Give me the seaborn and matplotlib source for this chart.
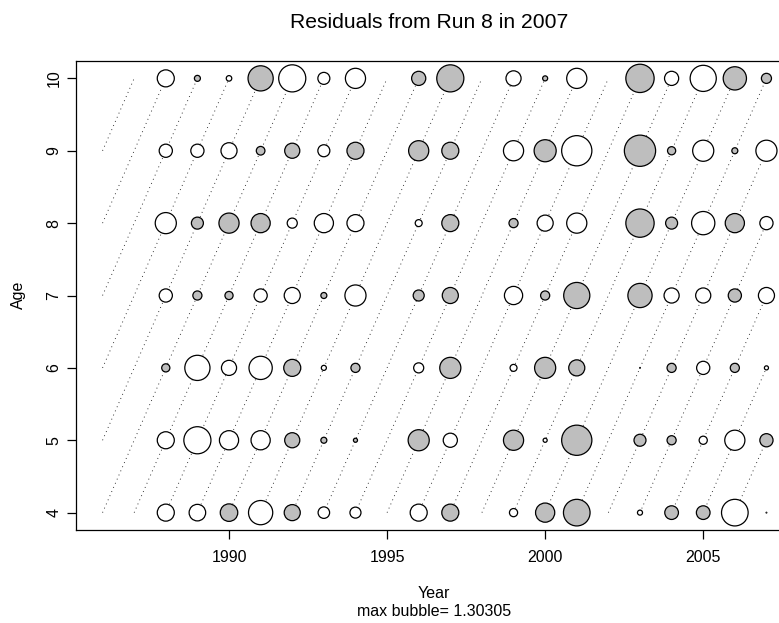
import matplotlib
matplotlib.use("Agg")
import matplotlib.pyplot as plt
import numpy as np
import pandas as pd
import seaborn as sns

# Years with observations (1995, 1998 and 2002 have none)
YEARS = [1988, 1989, 1990, 1991, 1992, 1993, 1994, 1996, 1997,
         1999, 2000, 2001, 2003, 2004, 2005, 2006, 2007]
AGES = [4, 5, 6, 7, 8, 9, 10]
FIRST_YEAR, LAST_YEAR = 1986, 2007
MAX_BUBBLE = 1.30305

# Residuals per age (grey = negative, open = positive)
RES_AGE4 = [0.71, 0.69, -0.73, 1.01, -0.67, 0.48, 0.46, 0.71, -0.71,
            0.34, -0.80, -1.11, 0.21, -0.57, -0.57, 1.11, 0.03]
RES_AGE5 = [0.71, 1.13, 0.80, 0.80, -0.63, -0.25, -0.17, -0.88, 0.59,
            -0.84, 0.17, -1.26, -0.50, -0.38, 0.34, 0.84, -0.55]
RES_AGE6 = [-0.34, 1.05, 0.63, 0.97, -0.71, 0.21, -0.38, 0.42, -0.88,
            0.29, -0.88, -0.67, -0.03, -0.38, 0.55, -0.38, 0.17]
RES_AGE7 = [0.55, -0.38, -0.34, 0.55, 0.67, -0.25, 0.88, -0.46, -0.67,
            0.76, -0.38, -1.09, -1.01, 0.63, 0.63, -0.55, 0.67]
RES_AGE8 = [0.88, -0.50, -0.84, -0.80, 0.42, 0.80, 0.71, 0.29, -0.71,
            -0.38, 0.67, 0.84, -1.18, -0.50, 0.97, -0.80, 0.55]
RES_AGE9 = [0.55, 0.55, 0.67, -0.36, -0.63, 0.50, -0.71, -0.84, -0.71,
            0.84, -0.92, 1.26, -1.30305, -0.34, 0.88, -0.25, 0.88]
RES_AGE10 = [0.71, -0.25, 0.23, -1.05, 1.13, 0.50, 0.84, -0.59, -1.13,
             0.63, -0.21, 0.84, -1.18, 0.59, 1.09, -0.97, -0.42]

rows = []
for age, res in zip(AGES, [RES_AGE4, RES_AGE5, RES_AGE6, RES_AGE7,
                           RES_AGE8, RES_AGE9, RES_AGE10]):
    for yr, r in zip(YEARS, res):
        rows.append({"year": yr, "age": age, "resid": r})
df = pd.DataFrame(rows)
df["sign"] = np.where(df["resid"] < 0, "neg", "pos")

# bubble diameter proportional to |residual|
max_diam_pt = 22.5
sizes = (df["resid"].abs() / MAX_BUBBLE * max_diam_pt) ** 2

sns.set_style("ticks")
plt.rcParams["font.family"] = ["Liberation Sans", "DejaVu Sans"]
plt.rcParams["text.color"] = "black"
plt.rcParams["xtick.color"] = "black"
plt.rcParams["ytick.color"] = "black"

W, H = 779, 623
fig = plt.figure(figsize=(W / 100, H / 100), dpi=100)
ax = fig.add_axes([76 / W, (H - 530) / H, 717 / W, 469 / H])

# cohort lines
for c in range(FIRST_YEAR - AGES[-1], LAST_YEAR - AGES[0] + 1):
    y0 = max(FIRST_YEAR, c + AGES[0])
    y1 = min(LAST_YEAR, c + AGES[-1])
    if y1 > y0:
        ax.plot([y0, y1], [y0 - c, y1 - c], color="0.1", lw=0.65,
                linestyle=(0, (1, 4)), zorder=1)

sns.scatterplot(
    data=df, x="year", y="age", hue="sign",
    palette={"neg": "#BEBEBE", "pos": "white"},
    s=sizes, edgecolor="black", linewidth=0.9,
    legend=False, ax=ax, zorder=3,
)

span_x = LAST_YEAR - FIRST_YEAR
span_y = AGES[-1] - AGES[0]
ax.set_xlim(FIRST_YEAR - 0.04 * span_x, LAST_YEAR + 0.04 * span_x)
ax.set_ylim(AGES[0] - 0.04 * span_y, AGES[-1] + 0.04 * span_y)

ax.set_xticks([1990, 1995, 2000, 2005])
ax.set_yticks(AGES)
ax.set_yticklabels([str(a) for a in AGES], rotation=90, va="center")
ax.tick_params(axis="both", direction="out", length=6.5, width=0.9,
               labelsize=11.5, color="black", labelcolor="black")
ax.tick_params(axis="x", pad=8)
ax.tick_params(axis="y", pad=4)
for sp in ax.spines.values():
    sp.set_visible(True)
    sp.set_linewidth(0.9)
    sp.set_color("black")
ax.set_xlabel("")
ax.set_ylabel("")

fig.text(429 / W, 1 - 22 / H, "Residuals from Run 8 in 2007",
         ha="center", va="center", fontsize=15.2, color="black")
fig.text(18 / W, 1 - 295 / H, "Age", rotation=90, ha="center",
         va="center", fontsize=11.5, color="black")
fig.text(434 / W, 1 - 594 / H, "Year", ha="center", va="center",
         fontsize=11.5, color="black")
fig.text(434 / W, 1 - 612 / H, "max bubble= 1.30305", ha="center",
         va="center", fontsize=11.5, color="black")

fig.savefig("out.png", dpi=100)
